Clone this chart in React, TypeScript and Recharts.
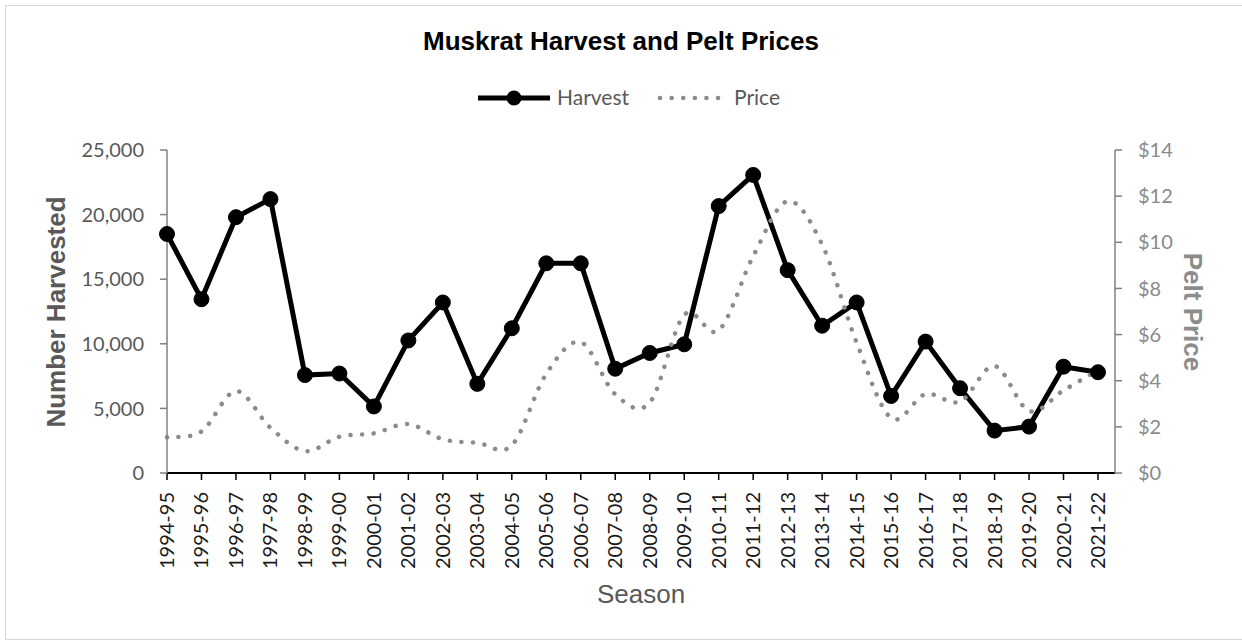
import { LineChart, Line, XAxis, YAxis } from "recharts"

const seasons = [
  "1994-95", "1995-96", "1996-97", "1997-98", "1998-99", "1999-00", "2000-01",
  "2001-02", "2002-03", "2003-04", "2004-05", "2005-06", "2006-07", "2007-08",
  "2008-09", "2009-10", "2010-11", "2011-12", "2012-13", "2013-14", "2014-15",
  "2015-16", "2016-17", "2017-18", "2018-19", "2019-20", "2020-21", "2021-22",
]

const harvest = [
  18500, 13450, 19800, 21200, 7580, 7700, 5150, 10260, 13200, 6900, 11200,
  16230, 16230, 8070, 9290, 9960, 20660, 23070, 15700, 11400, 13200, 5960,
  10170, 6560, 3280, 3590, 8230, 7800,
]

const price = [
  1.55, 1.8, 3.55, 1.96, 0.95, 1.57, 1.72, 2.12, 1.46, 1.31, 1.2, 4.3, 5.67,
  3.41, 3.05, 6.85, 6.18, 9.4, 11.78, 9.9, 5.65, 2.38, 3.42, 3.09, 4.64, 2.69,
  3.58, 4.46,
]

const harvestTicks = [0, 5000, 10000, 15000, 20000, 25000]
const priceTicks = [0, 2, 4, 6, 8, 10, 12, 14]

const data = seasons.map((season, i) => ({
  season,
  harvest: harvest[i],
  price: price[i],
}))

// Excel-style smoothing (Catmull-Rom through the points)
function excelSmooth(context: any) {
  let pts: number[][] = []
  return {
    areaStart() {},
    areaEnd() {},
    lineStart() {
      pts = []
    },
    point(x: number, y: number) {
      pts.push([+x, +y])
    },
    lineEnd() {
      if (!pts.length) return
      context.moveTo(pts[0][0], pts[0][1])
      for (let i = 0; i < pts.length - 1; i++) {
        const p0 = pts[i - 1] || pts[i]
        const p1 = pts[i]
        const p2 = pts[i + 1]
        const p3 = pts[i + 2] || p2
        context.bezierCurveTo(
          p1[0] + (p2[0] - p0[0]) / 6,
          p1[1] + (p2[1] - p0[1]) / 6,
          p2[0] - (p3[0] - p1[0]) / 6,
          p2[1] - (p3[1] - p1[1]) / 6,
          p2[0],
          p2[1]
        )
      }
    },
  }
}

const SeasonTick = (props: any) => {
  const { x, y, payload } = props
  return (
    <text
      x={x}
      y={y}
      transform={`rotate(-90, ${x}, ${y})`}
      textAnchor="end"
      dy="0.35em"
      fontFamily="Lato"
      fontSize={20}
      fill="#1a1a1a"
    >
      {payload.value}
    </text>
  )
}

export default function App() {
  return (
    <div
      style={{
        position: "absolute",
        left: 0,
        top: 0,
        width: 1242,
        height: 641,
        overflow: "hidden",
        background: "#fff",
      }}
    >
      <div
        style={{
          position: "absolute",
          left: 5,
          top: 5,
          width: 1250,
          height: 633,
          border: "1px solid #d9d9d9",
        }}
      />
      <div style={{ position: "absolute", left: 0, top: 0 }}>
        <LineChart
          width={1242}
          height={641}
          data={data}
          margin={{ top: 150, right: 0, bottom: 0, left: 0 }}
        >
          <XAxis
            dataKey="season"
            interval={0}
            height={168}
            tickSize={7}
            tickMargin={12}
            padding={{ left: 0, right: 17 }}
            axisLine={{ stroke: "#000", strokeWidth: 2 }}
            tickLine={{ stroke: "#000", strokeWidth: 1.5 }}
            tick={<SeasonTick />}
          />
          <YAxis
            yAxisId="left"
            width={167}
            domain={[0, 25000]}
            ticks={harvestTicks}
            tickSize={7}
            tickMargin={16}
            tickFormatter={(v: number) => v.toLocaleString("en-US")}
            axisLine={{ stroke: "#808080", strokeWidth: 1.5 }}
            tickLine={{ stroke: "#808080", strokeWidth: 1.5 }}
            tick={{ fill: "#595959", fontSize: 20, fontFamily: "Lato" }}
          />
          <YAxis
            yAxisId="right"
            orientation="right"
            width={127}
            domain={[0, 14]}
            ticks={priceTicks}
            tickSize={7}
            tickMargin={16}
            tickFormatter={(v: number) => `$${v}`}
            axisLine={{ stroke: "#808080", strokeWidth: 1.5 }}
            tickLine={{ stroke: "#808080", strokeWidth: 1.5 }}
            tick={{ fill: "#8a8a8a", fontSize: 20, fontFamily: "Lato" }}
          />
          <Line
            yAxisId="left"
            dataKey="harvest"
            type="linear"
            stroke="#000"
            strokeWidth={5}
            dot={{ r: 7.5, fill: "#000", stroke: "#000", strokeWidth: 1 }}
            isAnimationActive={false}
          />
          <Line
            yAxisId="right"
            dataKey="price"
            type={excelSmooth as any}
            stroke="#8c8c8c"
            strokeWidth={4.5}
            strokeDasharray="0.1 11.5"
            strokeLinecap="round"
            dot={false}
            isAnimationActive={false}
          />
        </LineChart>
      </div>
      <svg
        width={1242}
        height={641}
        style={{ position: "absolute", left: 0, top: 0, pointerEvents: "none" }}
      >
        <text
          x={621}
          y={50}
          textAnchor="middle"
          fontFamily="Liberation Sans, Arial"
          fontWeight="bold"
          fontSize={26}
          fill="#000"
        >
          Muskrat Harvest and Pelt Prices
        </text>
        <line x1={478} y1={98} x2={550} y2={98} stroke="#000" strokeWidth={5} />
        <circle cx={514} cy={98} r={7.5} fill="#000" />
        <text x={557} y={98} dy="0.35em" fontFamily="Lato" fontSize={21} fill="#595959">
          Harvest
        </text>
        <line
          x1={660}
          y1={98}
          x2={722}
          y2={98}
          stroke="#8c8c8c"
          strokeWidth={4.5}
          strokeDasharray="0.1 11.5"
          strokeLinecap="round"
        />
        <text x={734} y={98} dy="0.35em" fontFamily="Lato" fontSize={21} fill="#595959">
          Price
        </text>
        <text
          x={56}
          y={312}
          transform="rotate(-90, 56, 312)"
          textAnchor="middle"
          dy="0.35em"
          fontFamily="Liberation Sans, Arial"
          fontWeight="bold"
          fontSize={26}
          fill="#595959"
        >
          Number Harvested
        </text>
        <text
          x={1193}
          y={312}
          transform="rotate(90, 1193, 312)"
          textAnchor="middle"
          dy="0.35em"
          fontFamily="Liberation Sans, Arial"
          fontWeight="bold"
          fontSize={26}
          fill="#8c8c8c"
        >
          Pelt Price
        </text>
        <text
          x={641}
          y={603}
          textAnchor="middle"
          fontFamily="Liberation Sans, Arial"
          fontSize={26}
          fill="#595959"
        >
          Season
        </text>
      </svg>
    </div>
  )
}
